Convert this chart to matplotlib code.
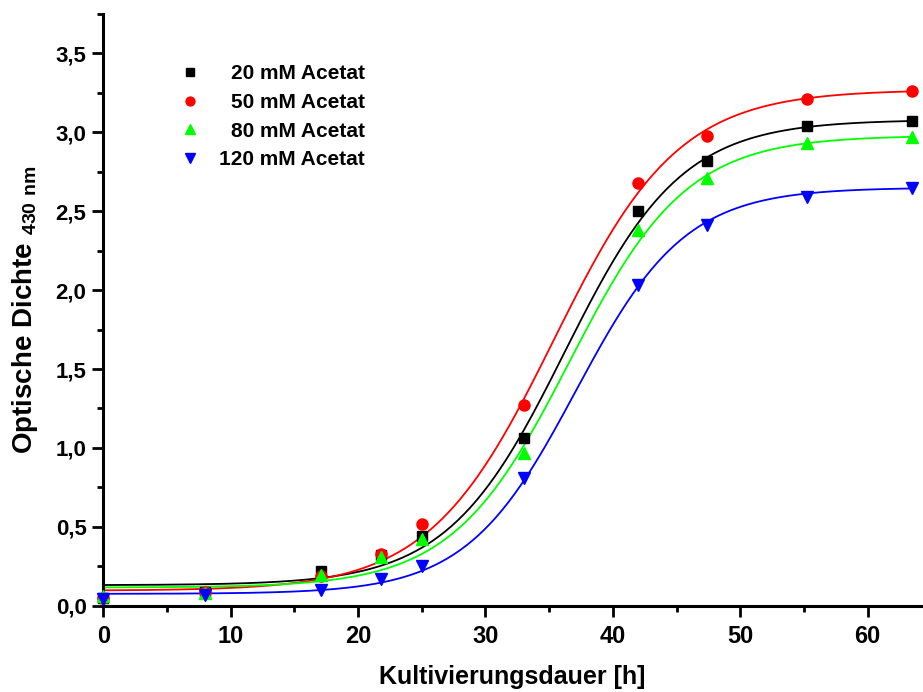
import matplotlib.pyplot as plt
import numpy as np
from matplotlib.ticker import MultipleLocator, FuncFormatter

plt.rcParams['font.family'] = ['Liberation Sans', 'DejaVu Sans']
plt.rcParams['font.weight'] = 'bold'
plt.rcParams['mathtext.fontset'] = 'custom'
plt.rcParams['mathtext.rm'] = 'Liberation Sans'

# Kultivierungsdauer [h]
zeit = [0, 8, 17.1, 21.8, 25, 33, 42, 47.4, 55.2, 63.5]

# Optische Dichte (430 nm)
od_20 = [0.05, 0.09, 0.22, 0.32, 0.44, 1.06, 2.50, 2.82, 3.04, 3.07]
od_50 = [0.05, 0.09, 0.19, 0.33, 0.52, 1.27, 2.68, 2.98, 3.21, 3.26]
od_80 = [0.06, 0.08, 0.195, 0.31, 0.42, 0.97, 2.38, 2.71, 2.93, 2.97]
od_120 = [0.04, 0.07, 0.10, 0.17, 0.25, 0.81, 2.03, 2.41, 2.59, 2.65]

# Boltzmann-Fit: A1, A2, x0, dx
fit_20 = [0.13, 3.08, 36.2, 4.6]
fit_50 = [0.095, 3.27, 35.35, 4.9]
fit_80 = [0.115, 2.98, 36.6, 4.6]
fit_120 = [0.075, 2.65, 37.1, 4.3]

labels = ['20 mM Acetat', '50 mM Acetat', '80 mM Acetat', '120 mM Acetat']
colors = ['#000000', '#FF0000', '#00FF00', '#0000FF']
markers = ['s', 'o', '^', 'v']
msizes = [7, 8, 8.5, 8.5]


def boltzmann(x, p):
    a1, a2, x0, dx = p
    return a2 + (a1 - a2) / (1 + np.exp((x - x0) / dx))


fig = plt.figure(figsize=(9.23, 6.92), dpi=100)
ax = fig.add_axes([0.1119, 0.1247, 0.887, 0.855])

xs = np.linspace(0, zeit[-1], 400)
series = [od_20, od_50, od_80, od_120]
fits = [fit_20, fit_50, fit_80, fit_120]
for od, fit, lab, c, m, ms in zip(series, fits, labels, colors, markers, msizes):
    ax.plot(xs, boltzmann(xs, fit), color=c, lw=1.3, clip_on=False)
    ax.plot(zeit, od, ls='none', marker=m, ms=ms, color=c, label=lab, clip_on=False, zorder=3)

ax.set_xlim(0, 64.26)
ax.set_ylim(0, 3.75)
ax.xaxis.set_major_locator(MultipleLocator(10))
ax.xaxis.set_minor_locator(MultipleLocator(5))
ax.yaxis.set_major_locator(MultipleLocator(0.5))
ax.yaxis.set_minor_locator(MultipleLocator(0.25))
ax.yaxis.set_major_formatter(FuncFormatter(lambda v, p: f'{v:.1f}'.replace('.', ',')))

for s in ['top', 'right']:
    ax.spines[s].set_visible(False)
for s in ['left', 'bottom']:
    ax.spines[s].set_linewidth(2.2)
ax.tick_params(which='major', length=8, width=2, direction='out')
ax.tick_params(which='minor', length=4.5, width=2, direction='out')
ax.tick_params(axis='y', labelsize=16, pad=4)
ax.tick_params(axis='x', labelsize=17, pad=6)

ax.set_xlabel('Kultivierungsdauer [h]', fontsize=18, fontweight='bold', labelpad=12)
ax.set_ylabel(r'Optische Dichte $_{\rm 430\ nm}$', fontsize=20, fontweight='bold', labelpad=11)

leg = ax.legend(loc='upper left', bbox_to_anchor=(0.080, 0.933), frameon=False, fontsize=15,
                handlelength=1.0, handletextpad=0.9, labelspacing=0.47, borderpad=0,
                markerscale=0.8)

# Legendentexte rechtsbuendig
fig.canvas.draw()
renderer = fig.canvas.get_renderer()
widths = [t.get_window_extent(renderer).width for t in leg.get_texts()]
shift = max(widths)
for t, w in zip(leg.get_texts(), widths):
    t.set_position((shift - w, 0))

fig.savefig('out.png', dpi=100)
